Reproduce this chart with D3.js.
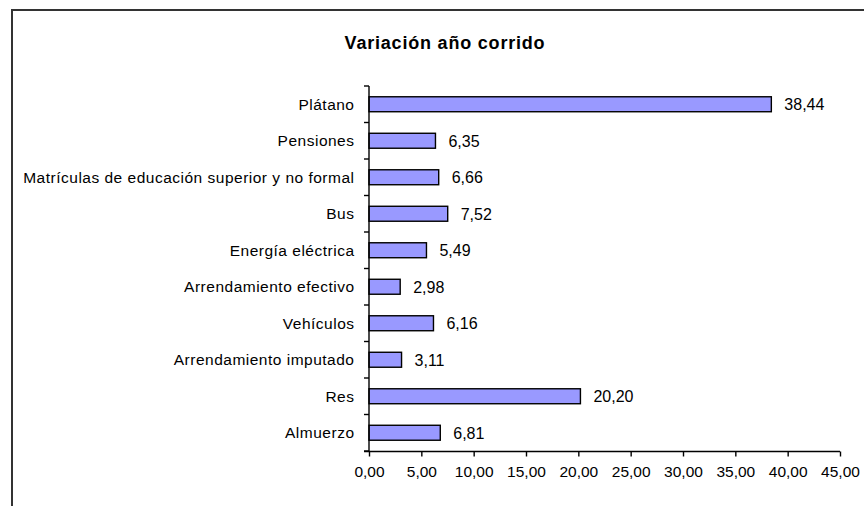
<!DOCTYPE html>
<html>
<head>
<meta charset="utf-8">
<script src="https://cdn.jsdelivr.net/npm/d3@7"></script>
<style>
  body { margin: 0; background: #fff; }
  svg { display: block; font-family: Arial, "Liberation Sans", sans-serif; }
</style>
</head>
<body>
<div id="chart"></div>
<script>
var categories = ['Plátano', 'Pensiones', 'Matrículas de educación superior y no formal', 'Bus',
  'Energía eléctrica', 'Arrendamiento efectivo', 'Vehículos', 'Arrendamiento imputado', 'Res', 'Almuerzo'];
var values = [38.44, 6.35, 6.66, 7.52, 5.49, 2.98, 6.16, 3.11, 20.20, 6.81];
var xTicks = [0, 5, 10, 15, 20, 25, 30, 35, 40, 45];
var title = 'Variación año corrido';

(function () {
  'use strict';

  var W = 864, H = 506;
  var COLOR_BAR = '#9999FF',
    COLOR_STROKE = '#000',
    COLOR_TEXT = '#000';

  var locale = d3.formatLocale({ decimal: ',', thousands: '.', grouping: [3], currency: ['', ''] });
  var fmt = locale.format('.2f');

  var svg = d3.select('#chart').append('svg').attr('width', W).attr('height', H);

  // chart frame (runs off the right and bottom edge)
  svg.append('rect')
    .attr('x', 12).attr('y', 10)
    .attr('width', W + 20).attr('height', H + 20)
    .attr('fill', 'none')
    .attr('stroke', '#333')
    .attr('stroke-width', 2);

  svg.append('text')
    .attr('x', 445).attr('y', 49)
    .attr('text-anchor', 'middle')
    .attr('font-size', '18px')
    .attr('font-weight', 'bold')
    .attr('letter-spacing', '0.8px')
    .attr('fill', COLOR_TEXT)
    .text(title);

  var x = d3.scaleLinear().domain([0, 45]).range([369, 840]);
  var y = d3.scaleBand().domain(categories).range([86, 451])
    .paddingInner(0.59).paddingOuter(0.295);

  // bars
  svg.append('g').selectAll('rect')
    .data(values)
    .join('rect')
    .attr('x', x(0))
    .attr('y', function (d, i) { return y(categories[i]); })
    .attr('width', function (d) { return x(d) - x(0); })
    .attr('height', y.bandwidth())
    .attr('fill', COLOR_BAR)
    .attr('stroke', COLOR_STROKE)
    .attr('stroke-width', 1.4);

  // value labels
  svg.append('g').selectAll('text')
    .data(values)
    .join('text')
    .attr('x', function (d) { return x(d) + 13; })
    .attr('y', function (d, i) { return y(categories[i]) + y.bandwidth() / 2; })
    .attr('dy', '0.36em')
    .attr('font-size', '16px')
    .attr('fill', COLOR_TEXT)
    .text(function (d) { return fmt(d); });

  // category axis, ticks between categories
  var yAxis = svg.append('g');
  yAxis.append('line')
    .attr('x1', x(0)).attr('x2', x(0))
    .attr('y1', 86).attr('y2', 452)
    .attr('stroke', COLOR_STROKE).attr('stroke-width', 1.4);
  yAxis.selectAll('line.tick')
    .data(d3.range(categories.length + 1))
    .join('line')
    .attr('class', 'tick')
    .attr('x1', x(0) - 5).attr('x2', x(0))
    .attr('y1', function (i) { return 86 + i * (365 / categories.length); })
    .attr('y2', function (i) { return 86 + i * (365 / categories.length); })
    .attr('stroke', COLOR_STROKE).attr('stroke-width', 1.4);
  yAxis.selectAll('text')
    .data(categories)
    .join('text')
    .attr('x', x(0) - 14.5)
    .attr('y', function (d) { return y(d) + y.bandwidth() / 2; })
    .attr('dy', '0.36em')
    .attr('text-anchor', 'end')
    .attr('font-size', '15.5px')
    .attr('letter-spacing', '0.5px')
    .attr('fill', COLOR_TEXT)
    .text(function (d) { return d; });

  // value axis
  var xAxis = d3.axisBottom(x)
    .tickValues(xTicks)
    .tickSize(5)
    .tickSizeOuter(0)
    .tickPadding(9.5)
    .tickFormat(fmt);

  var gx = svg.append('g')
    .attr('transform', 'translate(0,451.5)')
    .call(xAxis);
  gx.select('.domain').attr('stroke', COLOR_STROKE).attr('stroke-width', 1.4)
    .attr('d', 'M' + (x(0) - 5) + ',0H' + x(45));
  gx.selectAll('.tick line').attr('stroke', COLOR_STROKE).attr('stroke-width', 1.4);
  gx.selectAll('.tick text')
    .attr('font-size', '15.5px')
    .attr('font-family', 'Arial, "Liberation Sans", sans-serif')
    .attr('fill', COLOR_TEXT);
}());
</script>
</body>
</html>
